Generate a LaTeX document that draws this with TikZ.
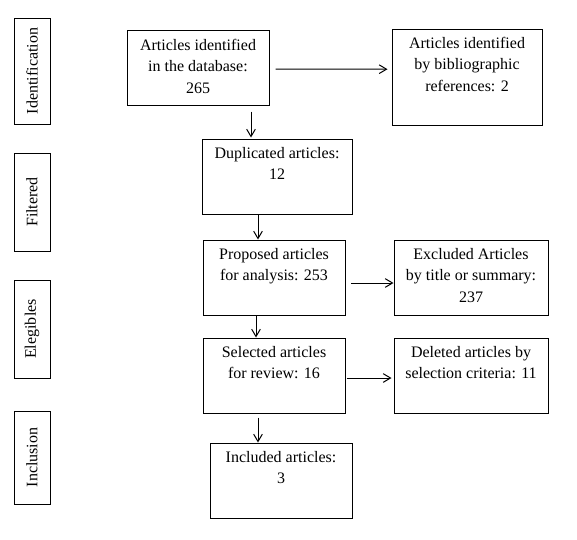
\documentclass[tikz,border=0pt]{standalone}
\usepackage{fontspec}
\setmainfont{Liberation Serif}
\usetikzlibrary{arrows.meta,calc}
\begin{document}
\begin{tikzpicture}[x=0.75pt,y=-0.75pt,line width=0.75pt,
  box/.style={draw,inner sep=0pt},
  txt/.style={label={[anchor=north,inner sep=0pt,align=center,yshift=-5.6pt,font=\fontsize{12}{16.1}\selectfont]north:{\rule{0pt}{9pt}#1}}},
  side/.style={draw,rotate=90,inner sep=0pt,minimum height=36*0.75pt,font=\fontsize{12}{14}\selectfont},
  arr/.style={-{Straight Barb[length=5.5pt,width=6.5pt]},line width=0.75pt}]
\useasboundingbox (0,0) rectangle (577,539);

% stage labels
\node[side,minimum width=106*0.75pt] (S1) at (32,71) {Identification};
\node[side,minimum width=98*0.75pt] (S2) at (32,202) {Filtered};
\node[side,minimum width=98*0.75pt] (S3) at (32,329) {Elegibles};
\node[side,minimum width=93*0.75pt] (S4) at (32,457.5) {Inclusion};

% boxes
\node[box,minimum width=142*0.75pt,minimum height=74.3*0.75pt,txt={Articles identified\\in the database:\\265}] (A) at (198,67.85) {};
\node[box,minimum width=150*0.75pt,minimum height=96*0.75pt,txt={Articles identified\\by bibliographic\\references: 2}] (B) at (467,77) {};
\node[box,minimum width=150*0.75pt,minimum height=75*0.75pt,txt={Duplicated articles:\\12}] (C) at (277,176.5) {};
\node[box,minimum width=142*0.75pt,minimum height=75*0.75pt,txt={Proposed articles\\for analysis: 253}] (D) at (274,277.5) {};
\node[box,minimum width=154*0.75pt,minimum height=75*0.75pt,txt={Excluded Articles\\by title or summary:\\237}] (E) at (471,277.5) {};
\node[box,minimum width=142*0.75pt,minimum height=75*0.75pt,txt={Selected articles\\for review: 16}] (F) at (274,375.5) {};
\node[box,minimum width=154*0.75pt,minimum height=75*0.75pt,txt={Deleted articles by\\selection criteria: 11}] (G) at (471,375.5) {};
\node[box,minimum width=142*0.75pt,minimum height=75*0.75pt,txt={Included articles:\\3}] (H) at (281,480.5) {};

% connectors
\draw[arr] ($(A.east)+(6,1.2)$) -- ($(B.west)+(-4,-7.8)$);
\draw[arr] ($(A.south)+(53,6)$) -- ($(C.north)+(-26,-1)$);
\draw[arr] ($(C.south)+(-19,0)$) -- ($(D.north)+(-16,0)$);
\draw[arr] ($(D.east)+(5.6,5.5)$) -- ($(E.west)+(0,5.5)$);
\draw[arr] ($(D.south)+(-18,0)$) -- ($(F.north)+(-18,0)$);
\draw[arr] ($(F.east)+(1,2.5)$) -- ($(G.west)+(-2,2.5)$);
\draw[arr] ($(F.south)+(-16,4)$) -- ($(H.north)+(-23,0)$);
\end{tikzpicture}
\end{document}
